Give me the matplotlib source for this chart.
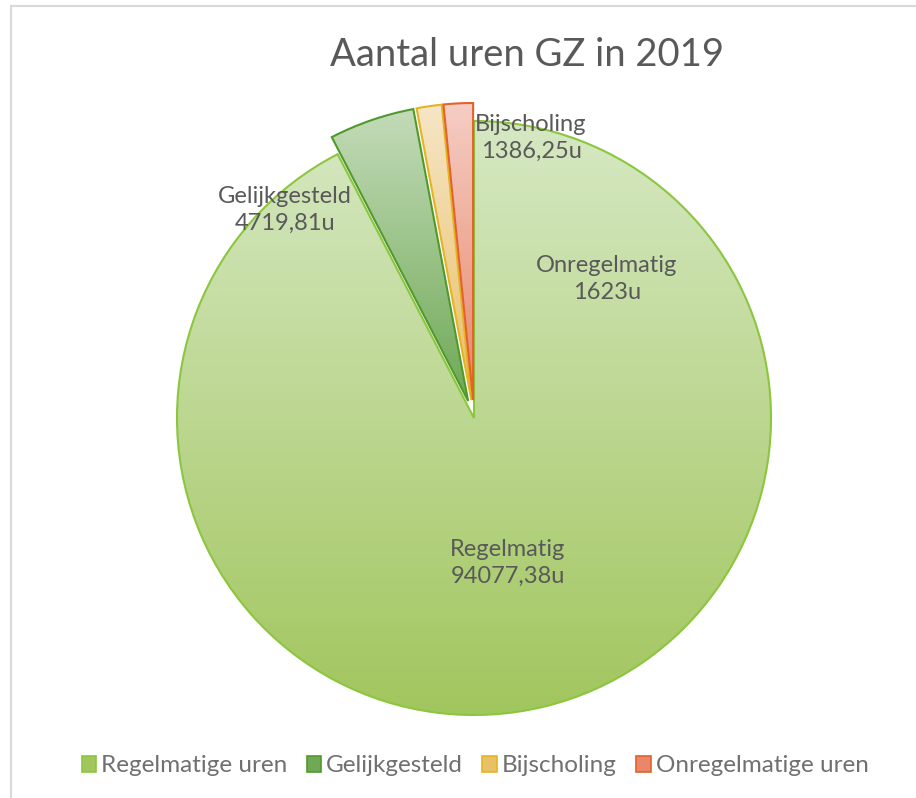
import numpy as np
import matplotlib.pyplot as plt
from matplotlib.patches import Rectangle, Patch
from matplotlib.colors import LinearSegmentedColormap

# data
categories = ['Regelmatige uren', 'Gelijkgesteld', 'Bijscholing', 'Onregelmatige uren']
hours = [94077.38, 4719.81, 1386.25, 1623]
label_names = ['Regelmatig', 'Gelijkgesteld', 'Bijscholing', 'Onregelmatig']
label_values = ['94077,38u', '4719,81u', '1386,25u', '1623u']

# styling
top_cols = ['#d6e8c3', '#c3dbb9', '#f6e6c6', '#f5cdc4']
bot_cols = ['#a2c65e', '#6fa955', '#e8c066', '#e8876a']
edge_cols = ['#8cc63e', '#4f9a2a', '#e6b422', '#e2622a']
explode = [0, 18, 18, 18]   # pie() offsets in data units (= pixels here)
# label anchor points (pixels, from top-left)
label_pos = [(508, 563), (285, 210), (531, 138), (607, 279)]
text_col = '#595959'

W, H = 916, 798
fig = plt.figure(figsize=(W / 100, H / 100), dpi=100)
ax = fig.add_axes([0, 0, 1, 1])

cx, cy, r = 474, H - 418, 297
wedges, _ = ax.pie(hours, startangle=90, counterclock=False, explode=explode,
                   center=(cx, cy), radius=r, frame=True,
                   wedgeprops=dict(linewidth=1.5))

# vertical gradient fill clipped to each wedge
for w, tc, bc, ec in zip(wedges, top_cols, bot_cols, edge_cols):
    w.set_facecolor('none')
    w.set_edgecolor(ec)
    w.set_zorder(3)
    bb = w.get_path().get_extents(w.get_patch_transform())
    cmap = LinearSegmentedColormap.from_list('g', [bc, tc])
    grad = np.linspace(0, 1, 256).reshape(-1, 1)
    im = ax.imshow(grad, cmap=cmap, origin='lower', aspect='auto',
                   extent=[bb.x0, bb.x1, bb.y0, bb.y1], zorder=2)
    im.set_clip_path(w)
ax.set_xlim(0, W)
ax.set_ylim(0, H)
ax.axis('off')

for name, val, (px, py) in zip(label_names, label_values, label_pos):
    ax.text(px, H - py, name + '\n' + val, ha='center', va='center',
            fontsize=17, color=text_col, family='Lato', linespacing=1.3, zorder=5)

fig.text(527 / W, 1 - 55 / H, 'Aantal uren GZ in 2019', ha='center', va='center',
         fontsize=27.5, color=text_col, family='Lato')

handles = [Patch(facecolor=bc, edgecolor=ec, linewidth=1.2) for bc, ec in zip(bot_cols, edge_cols)]
leg = fig.legend(handles, categories, loc='center', bbox_to_anchor=(475 / W, 1 - 766 / H),
                 ncol=4, frameon=False, handlelength=0.6, handleheight=0.6,
                 handletextpad=0.2, columnspacing=0.8, prop={'family': 'Lato', 'size': 17.5})
for t in leg.get_texts():
    t.set_color('#707070')

# chart-area border
fig.patches.append(Rectangle((11 / W, -0.1), 1.2, 1.1 - 6 / H, transform=fig.transFigure,
                             fill=False, edgecolor='#d9d9d9', linewidth=1.5))

plt.savefig('out.png', dpi=100)
